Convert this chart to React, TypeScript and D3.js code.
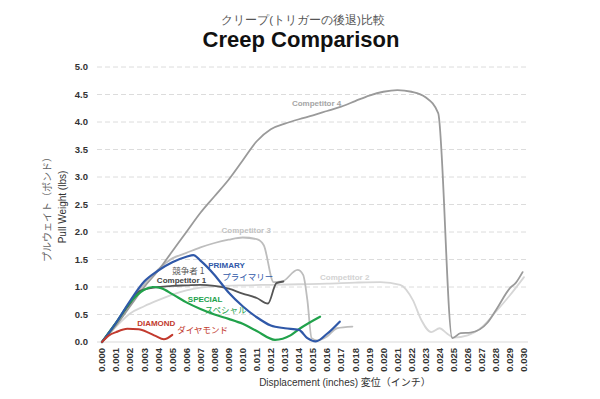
import * as d3 from 'd3';

const W = 600;
const H = 399;

// thousandths of an inch -> inches
const xTicks = d3.range(0, 31).map(i => i / 1000);
const yTicks = [0, 0.5, 1, 1.5, 2, 2.5, 3, 3.5, 4, 4.5, 5];

const comp4X = [0, 1, 2, 3, 4, 5, 6, 7, 8, 9, 10, 11, 12, 13, 14, 15, 16, 17, 18, 19, 20, 21, 22, 23, 23.9, 24.9, 25.5, 26.2, 27.4, 28.1, 29, 29.4, 29.9];
const comp4Y = [0, 0.3, 0.65, 1.0, 1.3, 1.65, 2.0, 2.35, 2.65, 2.95, 3.3, 3.65, 3.87, 3.97, 4.05, 4.12, 4.2, 4.28, 4.38, 4.48, 4.55, 4.58, 4.55, 4.45, 4.16, 0.07, 0.16, 0.17, 0.35, 0.62, 0.98, 1.07, 1.27];

const comp3X = [0, 1, 2, 3, 4, 5, 6, 7, 8, 9, 10, 11, 11.5, 12.2, 12.8, 13.9, 14.3, 14.6, 14.9, 15.3, 16, 16.7, 17.8];
const comp3Y = [0, 0.35, 0.72, 1.05, 1.32, 1.52, 1.62, 1.72, 1.8, 1.86, 1.9, 1.87, 1.76, 1.09, 1.1, 1.31, 1.22, 0.76, 0.07, 0.03, 0.1, 0.25, 0.28];

const comp2X = [0, 1, 2, 3, 4, 5, 6, 7, 8, 10, 12, 14, 16, 18, 19.8, 21.2, 22.1, 22.7, 23.4, 24, 24.5, 25, 26, 27, 28, 29, 30];
const comp2Y = [0, 0.28, 0.52, 0.65, 0.76, 0.86, 0.94, 0.99, 1.01, 1.03, 1.04, 1.05, 1.06, 1.08, 1.09, 1.04, 0.76, 0.4, 0.18, 0.25, 0.16, 0.08, 0.12, 0.27, 0.55, 0.85, 1.18];

const comp1X = [0, 1, 2, 2.7, 4, 5, 6, 7, 8, 9, 10, 11, 11.8, 12.4, 12.9];
const comp1Y = [0, 0.35, 0.7, 0.93, 1.0, 1.02, 1.03, 1.04, 1.02, 0.97, 0.88, 0.8, 0.7, 1.07, 1.1];

const primaryX = [0, 1, 2, 3, 4, 5, 6, 6.5, 7, 8, 9, 10, 11, 12, 13, 14, 14.6, 15.2, 16, 16.9];
const primaryY = [0, 0.35, 0.75, 1.1, 1.3, 1.45, 1.55, 1.58, 1.48, 1.22, 0.9, 0.65, 0.45, 0.3, 0.25, 0.22, 0.07, 0.01, 0.15, 0.37];

const specialX = [0, 1, 2, 3, 3.6, 4.2, 5, 6, 7, 8, 9, 10, 11, 12.3, 13.4, 14.1, 15.5];
const specialY = [0, 0.35, 0.72, 0.95, 1.0, 0.98, 0.87, 0.72, 0.6, 0.5, 0.42, 0.33, 0.2, 0.04, 0.12, 0.25, 0.46];

const diamondX = [0, 0.5, 1, 1.8, 2.6, 3.3, 3.8, 4.4, 5];
const diamondY = [0, 0.12, 0.18, 0.24, 0.23, 0.17, 0.11, 0.05, 0.13];

const series = [
  { name: 'comp2', xs: comp2X, ys: comp2Y, color: '#d6d6d6', width: 1.8 },
  { name: 'comp3', xs: comp3X, ys: comp3Y, color: '#bdbdbd', width: 1.8 },
  { name: 'comp4', xs: comp4X, ys: comp4Y, color: '#9a9a9a', width: 1.8 },
  { name: 'comp1', xs: comp1X, ys: comp1Y, color: '#555555', width: 1.8 },
  { name: 'special', xs: specialX, ys: specialY, color: '#21a24b', width: 2.2 },
  { name: 'primary', xs: primaryX, ys: primaryY, color: '#2f58a8', width: 2.2 },
  { name: 'diamond', xs: diamondX, ys: diamondY, color: '#c23a2e', width: 2 },
];

// label anchors in data units (x in thousandths)
const labels = [
  { text: 'Competitor 4', x: 13.5, y: 4.3, color: '#a5a5a5', bold: true },
  { text: 'Competitor 3', x: 8.5, y: 1.98, color: '#c2c2c2', bold: true },
  { text: 'Competitor 2', x: 15.5, y: 1.12, color: '#d2d2d2', bold: true },
  { text: '競争者 1', x: 5.0, y: 1.23, color: '#555555', bold: false },
  { text: 'Competitor 1', x: 3.9, y: 1.07, color: '#444444', bold: true },
  { text: 'PRIMARY', x: 7.55, y: 1.34, color: '#2f58a8', bold: true },
  { text: 'プライマリー', x: 8.55, y: 1.13, color: '#2f58a8', bold: false },
  { text: 'SPECIAL', x: 6.1, y: 0.73, color: '#21a24b', bold: true },
  { text: 'スペシャル', x: 7.3, y: 0.52, color: '#21a24b', bold: false },
  { text: 'DIAMOND', x: 2.5, y: 0.29, color: '#c23a2e', bold: true },
  { text: 'ダイヤモンド', x: 5.35, y: 0.17, color: '#c23a2e', bold: false },
];

export default function App() {
  const x = d3.scaleLinear().domain([0, 0.03]).range([102, 524]);
  const y = d3.scaleLinear().domain([0, 5]).range([342, 67]);
  const line = d3.line<[number, number]>()
    .x(d => x(d[0] / 1000))
    .y(d => y(d[1]))
    .curve(d3.curveMonotoneX);

  const font = '"Liberation Sans", Arial, sans-serif';
  const jp = '"Noto Sans CJK JP", sans-serif';

  return (
    <svg width={W} height={H} style={{ position: 'absolute', left: 0, top: 0, background: '#fff' }} fontFamily={font}>
      <text x={303} y={24} textAnchor="middle" fontSize={11.5} fill="#555">クリープ(トリガーの後退)比較</text>
      <text x={301} y={47} textAnchor="middle" fontSize={22} fontWeight="bold" fill="#111">Creep Comparison</text>

      {yTicks.filter(t => t > 0).map(t => (
        <line key={t} x1={97} x2={528} y1={y(t)} y2={y(t)} stroke="#dcdcdc" strokeWidth={1} strokeDasharray="5,3" />
      ))}
      <line x1={97} x2={528} y1={y(0)} y2={y(0)} stroke="#d9d9d9" strokeWidth={1} />

      {yTicks.map(t => (
        <text key={t} x={88} y={y(t)} dy="0.35em" textAnchor="end" fontSize={9.5} fontWeight="bold" fill="#333">
          {d3.format('.1f')(t)}
        </text>
      ))}

      {xTicks.map(t => (
        <text key={t} transform={`translate(${x(t)},348) rotate(-90)`} dy="0.35em" textAnchor="end" fontSize={9.5} fontWeight="bold" fill="#333">
          {d3.format('.3f')(t)}
        </text>
      ))}

      <text transform="translate(51,207) rotate(-90)" textAnchor="middle" fontSize={10} fill="#666" fontFamily={jp}>プルウェイト（ポンド）</text>
      <text transform="translate(66,207) rotate(-90)" textAnchor="middle" fontSize={10} fill="#333">Pull Weight (lbs)</text>

      <text x={345} y={386} textAnchor="middle" fontSize={10} fill="#333">
        Displacement (inches)  <tspan fontFamily={jp}>変位（インチ）</tspan>
      </text>

      {series.map(s => (
        <path key={s.name} d={line(s.xs.map((v, i) => [v, s.ys[i]] as [number, number])) || undefined}
          fill="none" stroke={s.color} strokeWidth={s.width} strokeLinejoin="round" strokeLinecap="round" />
      ))}

      {labels.map(l => (
        <text key={l.text} x={x(l.x / 1000)} y={y(l.y)} fontSize={l.bold ? 8 : 8.5} fontWeight={l.bold ? 'bold' : 'normal'} fill={l.color}
          fontFamily={l.bold ? font : jp}>
          {l.text}
        </text>
      ))}
    </svg>
  );
}
